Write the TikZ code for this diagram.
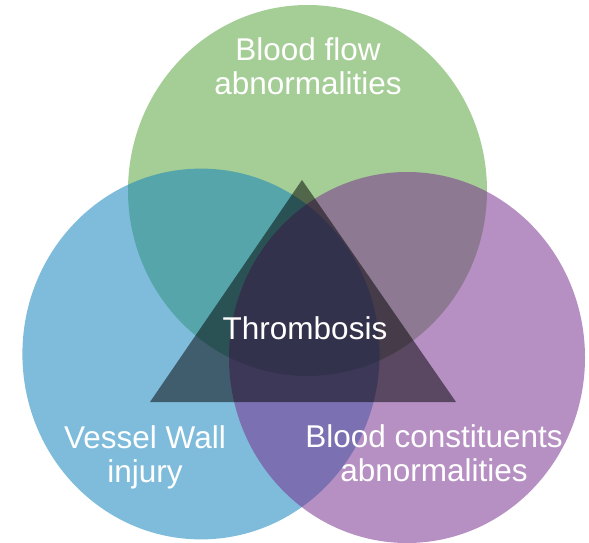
\documentclass[tikz,border=0pt]{standalone}
\usepackage{fontspec}
\setmainfont{Liberation Sans}
\usetikzlibrary{positioning}
\definecolor{flowgreen}{RGB}{89,163,61}
\definecolor{wallblue}{RGB}{18,131,189}
\definecolor{partpurple}{RGB}{120,50,143}
\tikzset{
  blob/.style={fill opacity=0.54},
  lbl/.style={text=white, align=center, font=\fontsize{31.5}{34}\selectfont, inner sep=0pt}
}
\begin{document}
\begin{tikzpicture}[x=1pt, y=-1pt]
    \useasboundingbox (0,0) rectangle (589,543);
    % three factors
    \fill[blob, flowgreen] (307.5,190.5) ellipse [x radius=179.5, y radius=185.5];
    \fill[blob, wallblue] (201,354) ellipse [x radius=178.6, y radius=185.4];
    \fill[blob, partpurple] (407,357.5) ellipse [x radius=178, y radius=185.5];
    % triad
    \coordinate (apex) at (302,180);
    \coordinate (baseL) at (150,402);
    \coordinate (baseR) at (456,402);
    \fill[black, fill opacity=0.5] (apex) -- (baseL) -- (baseR) -- cycle;
    % labels
    \node[lbl] (flow) at (308,66) {Blood flow\\abnormalities};
    \node[lbl] (thromb) at (305,328) {Thrombosis};
    \node[lbl] (wall) at (145,457) {Vessel Wall\\injury};
    \node[lbl] (blood) at (434,453) {Blood constituents\\abnormalities};
  \end{tikzpicture}
\end{document}
